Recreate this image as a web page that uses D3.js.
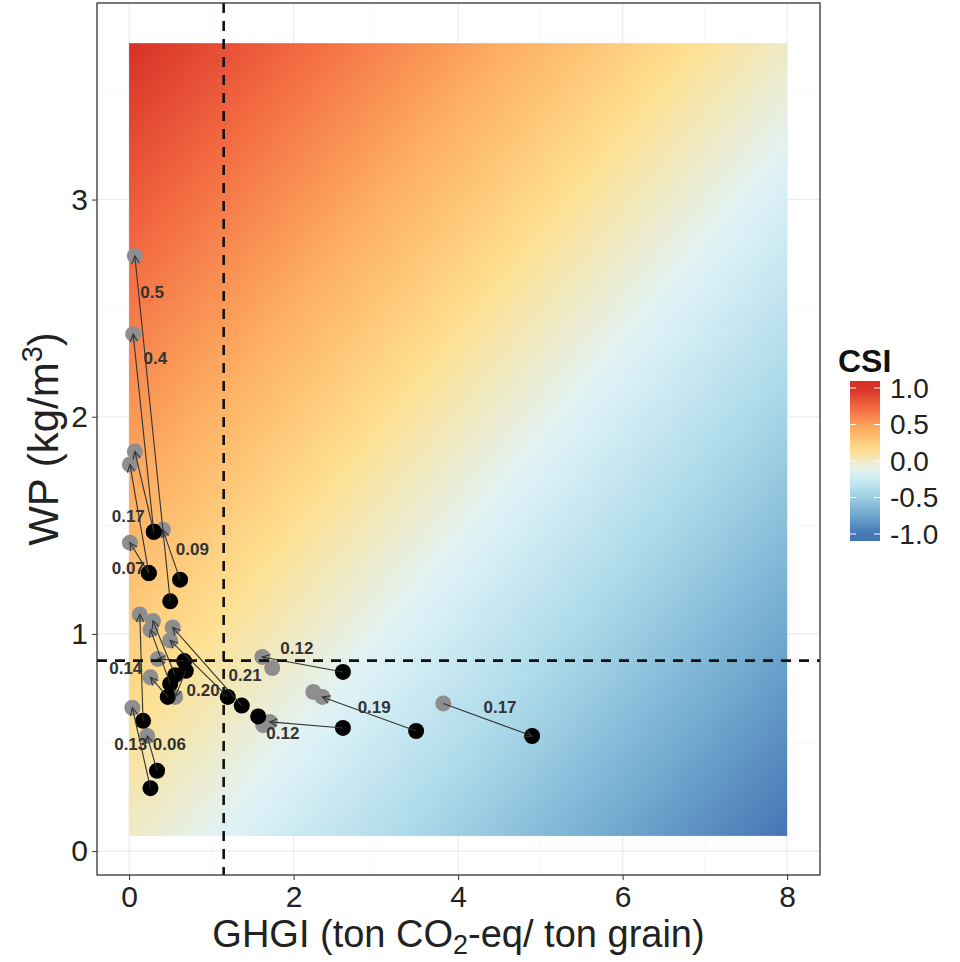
<!DOCTYPE html>
<html>
<head>
<meta charset="utf-8">
<script src="https://cdn.jsdelivr.net/npm/d3@7"></script>
<style>
  body { margin: 0; background: #fff; }
  text { font-family: "Liberation Sans", Arial, sans-serif; }
</style>
</head>
<body>
<div id="chart"></div>
<script>
// grey = baseline practice, black = alternative practice, one entry per site
const greyX  = [0.07, 0.05, 0.07, 0.01, 0.01, 0.41, 0.13, 0.04, 0.22, 0.29, 0.26, 0.35, 0.26, 0.56, 0.53, 0.50, 1.63, 1.62, 1.71, 2.35, 3.82];
const greyY  = [2.74, 2.38, 1.84, 1.78, 1.42, 1.48, 1.09, 0.66, 0.53, 1.06, 1.02, 0.885, 0.80, 0.71, 1.03, 0.97, 0.58, 0.894, 0.595, 0.71, 0.68];
const blackX = [0.50, 0.30, 0.30, 0.24, 0.24, 0.62, 0.17, 0.26, 0.34, 0.56, 0.50, 0.67, 0.47, 0.69, 1.37, 1.20, 1.57, 2.60, 2.60, 3.49, 4.90];
const blackY = [1.15, 1.47, 1.47, 1.28, 1.28, 1.25, 0.60, 0.29, 0.37, 0.81, 0.77, 0.875, 0.71, 0.83, 0.67, 0.71, 0.62, 0.825, 0.567, 0.553, 0.53];
// which end the arrow points at ("g" grey, "b" black, "" none)
const arrowTo = ["g", "g", "g", "g", "g", "g", "g", "g", "g", "g", "g", "g", "g", "g", "g", "g", "", "g", "g", "g", "b"];
const changeLabel = ["0.5", "0.4", "0.17", "", "0.07", "0.09", "0.14", "0.13", "0.06", "", "", "", "", "", "0.21", "0.20", "", "0.12", "0.12", "0.19", "0.17"];
const labelX = [0.28, 0.32, -0.01, 0, -0.01, 0.77, -0.04, 0.02, 0.49, 0, 0, 0, 0, 0, 1.41, 0.90, 0, 2.04, 1.87, 2.98, 4.51];
const labelY = [2.57, 2.27, 1.54, 0, 1.30, 1.39, 0.84, 0.49, 0.49, 0, 0, 0, 0, 0, 0.81, 0.74, 0, 0.935, 0.54, 0.66, 0.66];
const extraGreyX = [1.74, 2.24];
const extraGreyY = [0.843, 0.733];

// thresholds
const ghgiRef = 1.15;
const wpRef = 0.877;

// CSI surface extent
const rasterX = [0, 8];
const rasterY = [0.07, 3.72];
const csiColors = ["#D73027", "#F46D43", "#FDAE61", "#FEE090", "#E0F3F8", "#ABD9E9", "#74ADD1", "#4575B4"];

const xTicks = [0, 2, 4, 6, 8];
const yTicks = [0, 1, 2, 3];
const legendTicks = [1, 0.5, 0, -0.5, -1];

const W = 960, H = 962;
const panel = { left: 97, right: 820, top: 3, bottom: 875 };

const svg = d3.select("#chart").append("svg")
  .attr("width", W).attr("height", H);

const x = d3.scaleLinear().domain([-0.39, 8.4]).range([panel.left, panel.right]);
const y = d3.scaleLinear().domain([-0.11, 3.905]).range([panel.bottom, panel.top]);

const csiColor = d3.scaleLinear()
  .domain(csiColors.map((c, i) => 1 - i * 2 / (csiColors.length - 1)))
  .range(csiColors);

const defs = svg.append("defs");

// CSI = scaled WP - scaled GHGI, so it runs diagonally across the surface
const grad = defs.append("linearGradient")
  .attr("id", "csi").attr("x1", 0).attr("y1", 0).attr("x2", 1).attr("y2", 1);
d3.range(0, 1.0001, 0.02).forEach(t => {
  grad.append("stop").attr("offset", t).attr("stop-color", csiColor(1 - 2 * t));
});

defs.append("marker")
  .attr("id", "arrow")
  .attr("markerUnits", "userSpaceOnUse")
  .attr("markerWidth", 12).attr("markerHeight", 12)
  .attr("refX", 0).attr("refY", 0)
  .attr("viewBox", "-10 -6 12 12")
  .attr("orient", "auto")
  .append("path")
  .attr("d", "M-7.5,-3.8L0,0L-7.5,3.8")
  .attr("fill", "none").attr("stroke", "#333").attr("stroke-width", 1.1);

// grid (theme_bw)
const g = svg.append("g");
d3.range(0, 9, 1).forEach(v => {
  g.append("line").attr("x1", x(v)).attr("x2", x(v)).attr("y1", panel.top).attr("y2", panel.bottom)
    .attr("stroke", v % 2 ? "#f3f3f3" : "#ebebeb").attr("stroke-width", v % 2 ? 0.6 : 1.1);
});
d3.range(0, 4, 0.5).forEach(v => {
  g.append("line").attr("y1", y(v)).attr("y2", y(v)).attr("x1", panel.left).attr("x2", panel.right)
    .attr("stroke", v % 1 ? "#f3f3f3" : "#ebebeb").attr("stroke-width", v % 1 ? 0.6 : 1.1);
});

g.append("rect")
  .attr("x", x(rasterX[0])).attr("y", y(rasterY[1]))
  .attr("width", x(rasterX[1]) - x(rasterX[0]))
  .attr("height", y(rasterY[0]) - y(rasterY[1]))
  .attr("fill", "url(#csi)");

const idx = d3.range(greyX.length);

g.selectAll(".grey").data(idx).enter().append("circle")
  .attr("cx", i => x(greyX[i])).attr("cy", i => y(greyY[i])).attr("r", 8)
  .attr("fill", "#8e8e8e");
g.selectAll(".greyx").data(extraGreyX).enter().append("circle")
  .attr("cx", (d) => x(d)).attr("cy", (d, i) => y(extraGreyY[i])).attr("r", 8)
  .attr("fill", "#8e8e8e");
g.selectAll(".black").data(idx).enter().append("circle")
  .attr("cx", i => x(blackX[i])).attr("cy", i => y(blackY[i])).attr("r", 8)
  .attr("fill", "#000");

g.selectAll(".seg").data(idx.filter(i => arrowTo[i])).enter().append("line")
  .attr("x1", i => arrowTo[i] === "g" ? x(blackX[i]) : x(greyX[i]))
  .attr("y1", i => arrowTo[i] === "g" ? y(blackY[i]) : y(greyY[i]))
  .attr("x2", i => arrowTo[i] === "g" ? x(greyX[i]) : x(blackX[i]))
  .attr("y2", i => arrowTo[i] === "g" ? y(greyY[i]) : y(blackY[i]))
  .attr("stroke", "#333").attr("stroke-width", 1.1)
  .attr("marker-end", "url(#arrow)");

// reference lines
g.append("line").attr("x1", x(ghgiRef)).attr("x2", x(ghgiRef)).attr("y1", panel.top).attr("y2", panel.bottom)
  .attr("stroke", "#111").attr("stroke-width", 2.6).attr("stroke-dasharray", "10,8");
g.append("line").attr("y1", y(wpRef)).attr("y2", y(wpRef)).attr("x1", panel.left).attr("x2", panel.right)
  .attr("stroke", "#111").attr("stroke-width", 2.6).attr("stroke-dasharray", "10,8");

g.selectAll(".lab").data(idx.filter(i => changeLabel[i])).enter().append("text")
  .attr("x", i => x(labelX[i])).attr("y", i => y(labelY[i]))
  .attr("text-anchor", "middle").attr("dominant-baseline", "central")
  .attr("font-size", 17).attr("font-weight", "bold").attr("fill", "#333")
  .text(i => changeLabel[i]);

// panel border
svg.append("rect")
  .attr("x", panel.left).attr("y", panel.top)
  .attr("width", panel.right - panel.left).attr("height", panel.bottom - panel.top)
  .attr("fill", "none").attr("stroke", "#333").attr("stroke-width", 1.3);

// axes
const xAxis = svg.append("g").attr("transform", `translate(0,${panel.bottom})`)
  .call(d3.axisBottom(x).tickValues(xTicks).tickSize(5).tickFormat(d3.format("d")));
const yAxis = svg.append("g").attr("transform", `translate(${panel.left},0)`)
  .call(d3.axisLeft(y).tickValues(yTicks).tickSize(5).tickFormat(d3.format("d")));
[xAxis, yAxis].forEach(a => {
  a.select(".domain").remove();
  a.selectAll("line").attr("stroke", "#333");
  a.selectAll("text").attr("font-size", 30).attr("fill", "#222")
    .attr("font-family", "Liberation Sans, Arial, sans-serif");
});
xAxis.selectAll("text").attr("dy", "0.8em");
yAxis.selectAll("text").attr("x", -9);

// axis titles
const xt = svg.append("text").attr("x", (panel.left + panel.right) / 2).attr("y", 947)
  .attr("text-anchor", "middle").attr("font-size", 38).attr("fill", "#222");
xt.append("tspan").text("GHGI (ton CO");
xt.append("tspan").attr("font-size", 27).attr("dy", 7).text("2");
xt.append("tspan").attr("dy", -7).text("-eq/ ton grain)");

const yt = svg.append("text").attr("transform", `translate(58,${(panel.top + panel.bottom) / 2}) rotate(-90)`)
  .attr("text-anchor", "middle").attr("font-size", 42).attr("fill", "#222");
yt.append("tspan").text("WP (kg/m");
yt.append("tspan").attr("font-size", 29).attr("dy", -16).text("3");
yt.append("tspan").attr("dy", 16).text(")");

// legend
const leg = { x: 850, w: 30, top: 381, bottom: 541 };
const ly = d3.scaleLinear().domain([-1, 1]).range([leg.bottom - 7, leg.top + 7]);
const lgrad = defs.append("linearGradient").attr("id", "leg")
  .attr("x1", 0).attr("y1", 1).attr("x2", 0).attr("y2", 0);
d3.range(0, 1.0001, 0.05).forEach(t => {
  const v = ly.invert(leg.bottom - t * (leg.bottom - leg.top));
  lgrad.append("stop").attr("offset", t).attr("stop-color", csiColor(Math.max(-1, Math.min(1, v))));
});
svg.append("text").attr("x", 838).attr("y", 372).attr("font-size", 32)
  .attr("font-weight", "bold").attr("fill", "#111").text("CSI");
svg.append("rect").attr("x", leg.x).attr("y", leg.top).attr("width", leg.w)
  .attr("height", leg.bottom - leg.top).attr("fill", "url(#leg)");
legendTicks.forEach(v => {
  svg.append("line").attr("x1", leg.x).attr("x2", leg.x + 6).attr("y1", ly(v)).attr("y2", ly(v))
    .attr("stroke", "#fff").attr("stroke-width", 1);
  svg.append("line").attr("x1", leg.x + leg.w - 6).attr("x2", leg.x + leg.w).attr("y1", ly(v)).attr("y2", ly(v))
    .attr("stroke", "#fff").attr("stroke-width", 1);
  svg.append("text").attr("x", 890).attr("y", ly(v)).attr("dominant-baseline", "central")
    .attr("font-size", 28).attr("fill", "#222").text(v.toFixed(1));
});
</script>
</body>
</html>
